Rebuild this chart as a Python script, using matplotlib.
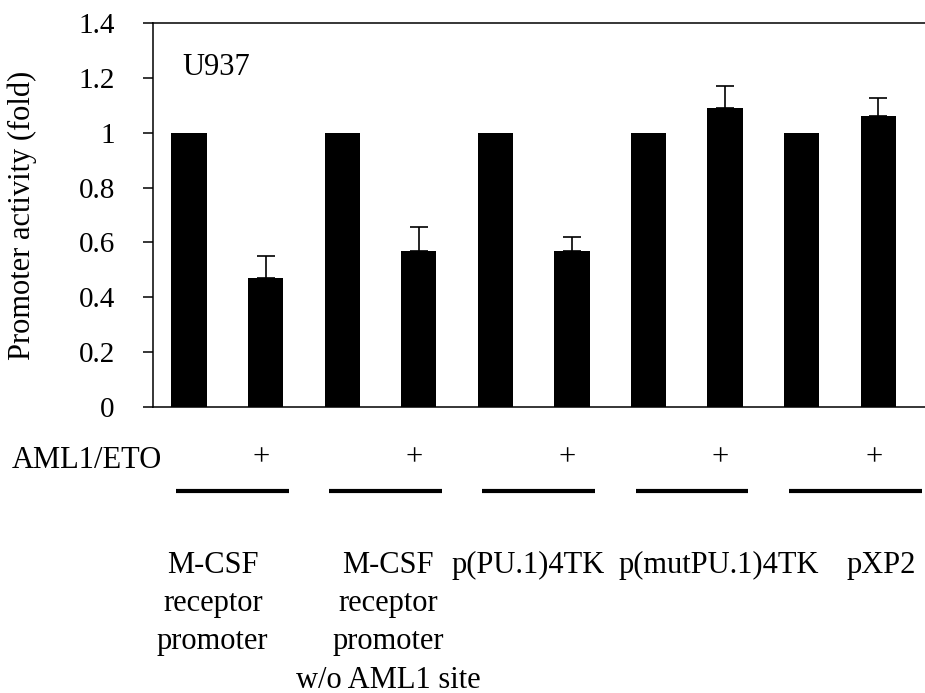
import numpy as np
import matplotlib
matplotlib.use('Agg')
import matplotlib.pyplot as plt

# Data
constructs = ['M-CSF\nreceptor\npromoter',
              'M-CSF\nreceptor\npromoter\nw/o AML1 site',
              'p(PU.1)4TK',
              'p(mutPU.1)4TK',
              'pXP2']
control = [1.0, 1.0, 1.0, 1.0, 1.0]
aml1_eto = [0.47, 0.57, 0.57, 1.09, 1.06]
aml1_eto_err = [0.08, 0.085, 0.05, 0.08, 0.065]
yticks = [0, 0.2, 0.4, 0.6, 0.8, 1, 1.2, 1.4]
ytick_labels = ['0', '0.2', '0.4', '0.6', '0.8', '1', '1.2', '1.4']

# layout tweaks for the text under the chart (label centre shift per group)
label_shift = [-0.19, 0.1, -0.07, 0.42, 0.54]

plt.rcParams['font.family'] = ['Liberation Serif', 'DejaVu Serif']
FS = 22

fig = plt.figure(figsize=(9.25, 6.93), dpi=100)
ax = fig.add_axes([153 / 925, 286 / 693, 772 / 925, 384 / 693])

n = len(constructs)
x_ctrl = np.arange(n) * 2
x_aml = x_ctrl + 1
width = 0.46

ax.bar(x_ctrl, control, width, color='black', zorder=2)
ax.bar(x_aml, aml1_eto, width, color='black', zorder=2)
ax.errorbar(x_aml, aml1_eto, yerr=[np.zeros(n), aml1_eto_err], fmt='none',
            ecolor='black', elinewidth=1.2, capsize=6.5, capthick=1.2, zorder=3)

ax.set_xlim(-0.47, 9.61)
ax.set_ylim(0, 1.4)
ax.set_yticks(yticks)
ax.set_yticklabels(ytick_labels, fontsize=21)
ax.set_xticks([])
ax.tick_params(axis='y', direction='out', length=7.5, width=1.1, pad=20)

for side in ['left', 'bottom', 'top']:
    ax.spines[side].set_linewidth(1.1)
ax.spines['right'].set_visible(False)

ax.set_ylabel('Promoter activity (fold)', fontsize=FS)
ax.yaxis.set_label_coords(-0.150, 0.5)

ax.text(-0.09, 1.21, 'U937', fontsize=FS, va='baseline')

# table-like annotation below the axes
tr = ax.get_xaxis_transform()
fig.text(12 / 925, (693 - 468) / 693, 'AML1/ETO', fontsize=FS, va='baseline')
for i in range(n):
    ax.text(x_aml[i] - 0.06, -0.133, '+', fontsize=FS, ha='center',
            va='center', transform=tr)
    left = x_ctrl[i] - 0.17
    right = x_aml[i] + 0.3 if i < n - 1 else x_aml[i] + 0.57
    ax.plot([left, right], [-0.219, -0.219], color='black', lw=3,
            transform=tr, clip_on=False, solid_capstyle='butt')
    cx = x_ctrl[i] + 0.5 + label_shift[i]
    for j, line in enumerate(constructs[i].split('\n')):
        ax.text(cx, -0.432 - j * 0.0997, line, fontsize=FS, ha='center',
                va='baseline', transform=tr)

fig.savefig('out.png', dpi=100)
